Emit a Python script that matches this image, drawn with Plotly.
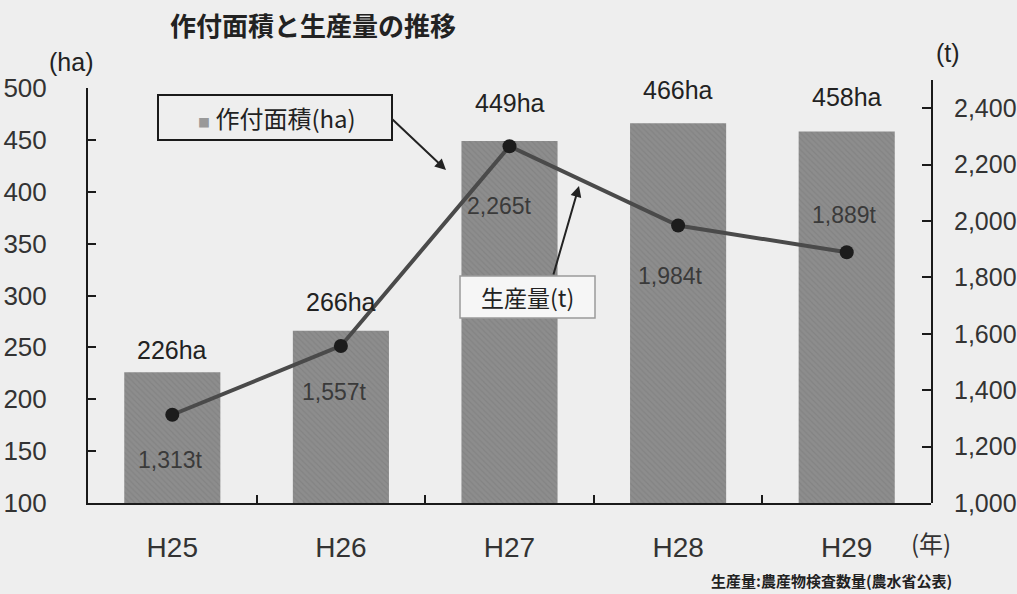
import plotly.graph_objects as go

# ---- data ----
years = ["H25", "H26", "H27", "H28", "H29"]
area_ha = [226, 266, 449, 466, 458]
production_t = [1313, 1557, 2265, 1984, 1889]

area_labels = [f"{v}ha" for v in area_ha]
prod_labels = [f"{v:,}t" for v in production_t]

# label offsets (styling only, pixels)
area_dy = [22, 29, 38, 33, 35]
prod_dy = [-45, -46, -60, -50, 37]
prod_dx = [-2, -6, -10, -8, -2]

# ---- layout geometry ----
W, H = 1017, 594
L, R, T, B = 88, 86, 80, 91
PW, PH = W - L - R, H - T - B


def px(x):
    return (x - L) / PW


def py(y):
    return (H - B - y) / PH


JP = "Noto Sans CJK JP"
NUM = "Liberation Sans"
BG = "#eeeeee"

fig = go.Figure()
fig.add_trace(go.Bar(
    x=years, y=area_ha, width=0.57,
    marker=dict(color="#8d8d8d", line=dict(width=0),
                pattern=dict(shape="\\", fgcolor="#7a7a7a", size=4, solidity=0.3)),
    yaxis="y", showlegend=False, hoverinfo="skip",
))
fig.add_trace(go.Scatter(
    x=years, y=production_t, mode="lines+markers",
    line=dict(color="#4a4a4a", width=4),
    marker=dict(color="#1c1c1c", size=14),
    yaxis="y2", showlegend=False, hoverinfo="skip",
))


def note(x, y, text, font, **kw):
    d = dict(x=px(x), y=py(y), xref="paper", yref="paper", text=text, showarrow=False,
             xanchor="center", yanchor="middle", font=font)
    d.update(kw)
    return d


annotations = []
for xv, yv, t, dy in zip(years, area_ha, area_labels, area_dy):
    annotations.append(dict(x=xv, y=yv, xref="x", yref="y", text=t, showarrow=False,
                            xanchor="center", yanchor="middle",
                            yshift=dy, font=dict(family=NUM, size=25, color="#222222")))
for xv, yv, t, dy, dx in zip(years, production_t, prod_labels, prod_dy, prod_dx):
    annotations.append(dict(x=xv, y=yv, xref="x", yref="y2", text=t, showarrow=False,
                            xanchor="center", yanchor="middle",
                            yshift=dy, xshift=dx, font=dict(family=NUM, size=23, color="#3a3a3a")))

annotations += [
    note(313, 25, "<b>作付面積と生産量の推移</b>", dict(family=JP, size=26, color="#222222")),
    note(71, 62, "(ha)", dict(family=NUM, size=25, color="#222222")),
    note(948, 53, "(t)", dict(family=NUM, size=25, color="#222222")),
    note(931, 542, "(年)", dict(family=JP, size=24, color="#333333")),
    note(831, 580, "<b>生産量:農産物検査数量(農水省公表)</b>", dict(family=JP, size=15, color="#222222")),
    note(277, 117, "<span style='color:#999999;font-size:12px'>■</span> 作付面積(ha)",
         dict(family=JP, size=24, color="#222222")),
    note(527, 297, "生産量(t)", dict(family=JP, size=23, color="#222222")),
    # arrows
    dict(x=px(446), y=py(170), xref="paper", yref="paper", text="", showarrow=True,
         ax=-56, ay=-53, arrowhead=2, arrowsize=1.1, arrowwidth=2, arrowcolor="#222222"),
    dict(x=px(579), y=py(186), xref="paper", yref="paper", text="", showarrow=True,
         ax=-26, ay=90, arrowhead=2, arrowsize=1.1, arrowwidth=2, arrowcolor="#222222"),
]

shapes = [
    dict(type="rect", xref="paper", yref="paper", x0=px(158), x1=px(392), y0=py(140), y1=py(95),
         line=dict(color="#1a1a1a", width=2), fillcolor=BG, layer="above"),
    dict(type="rect", xref="paper", yref="paper", x0=px(460), x1=px(595), y0=py(318), y1=py(276),
         line=dict(color="#9a9a9a", width=1.5), fillcolor="#f6f6f6", layer="above"),
]

fig.update_layout(
    width=W, height=H,
    margin=dict(l=L, r=R, t=T, b=B, pad=0, autoexpand=False),
    paper_bgcolor=BG, plot_bgcolor="rgba(0,0,0,0)",
    xaxis=dict(
        type="category", range=[-0.5, 4.5], showline=True, linecolor="#1a1a1a", linewidth=2,
        ticks="inside", tickson="boundaries", ticklen=8, tickcolor="#1a1a1a", tickwidth=1.5,
        showgrid=False, zeroline=False, ticklabelstandoff=18, automargin=False,
        tickfont=dict(family=NUM, size=28, color="#333333"),
        anchor="y",
    ),
    yaxis=dict(
        range=[100, 500], dtick=50, tick0=100, domain=[0, py(88)],
        showline=True, linecolor="#1a1a1a", linewidth=2, automargin=False,
        ticks="inside", ticklen=8, tickcolor="#1a1a1a", tickwidth=1.5,
        showgrid=False, zeroline=False, ticklabelstandoff=34,
        tickfont=dict(family=NUM, size=26, color="#333333"),
        anchor="x",
    ),
    yaxis2=dict(
        range=[1000, 2500], dtick=200, tick0=1000, tickformat=",", domain=[0, 1],
        side="right", anchor="x", automargin=False,
        showline=True, linecolor="#1a1a1a", linewidth=2,
        ticks="inside", ticklen=9, tickcolor="#1a1a1a", tickwidth=1.5,
        showgrid=False, zeroline=False, ticklabelstandoff=16,
        tickfont=dict(family=NUM, size=25, color="#333333"),
    ),
    annotations=annotations,
    shapes=shapes,
)

fig.write_html("out.html")
